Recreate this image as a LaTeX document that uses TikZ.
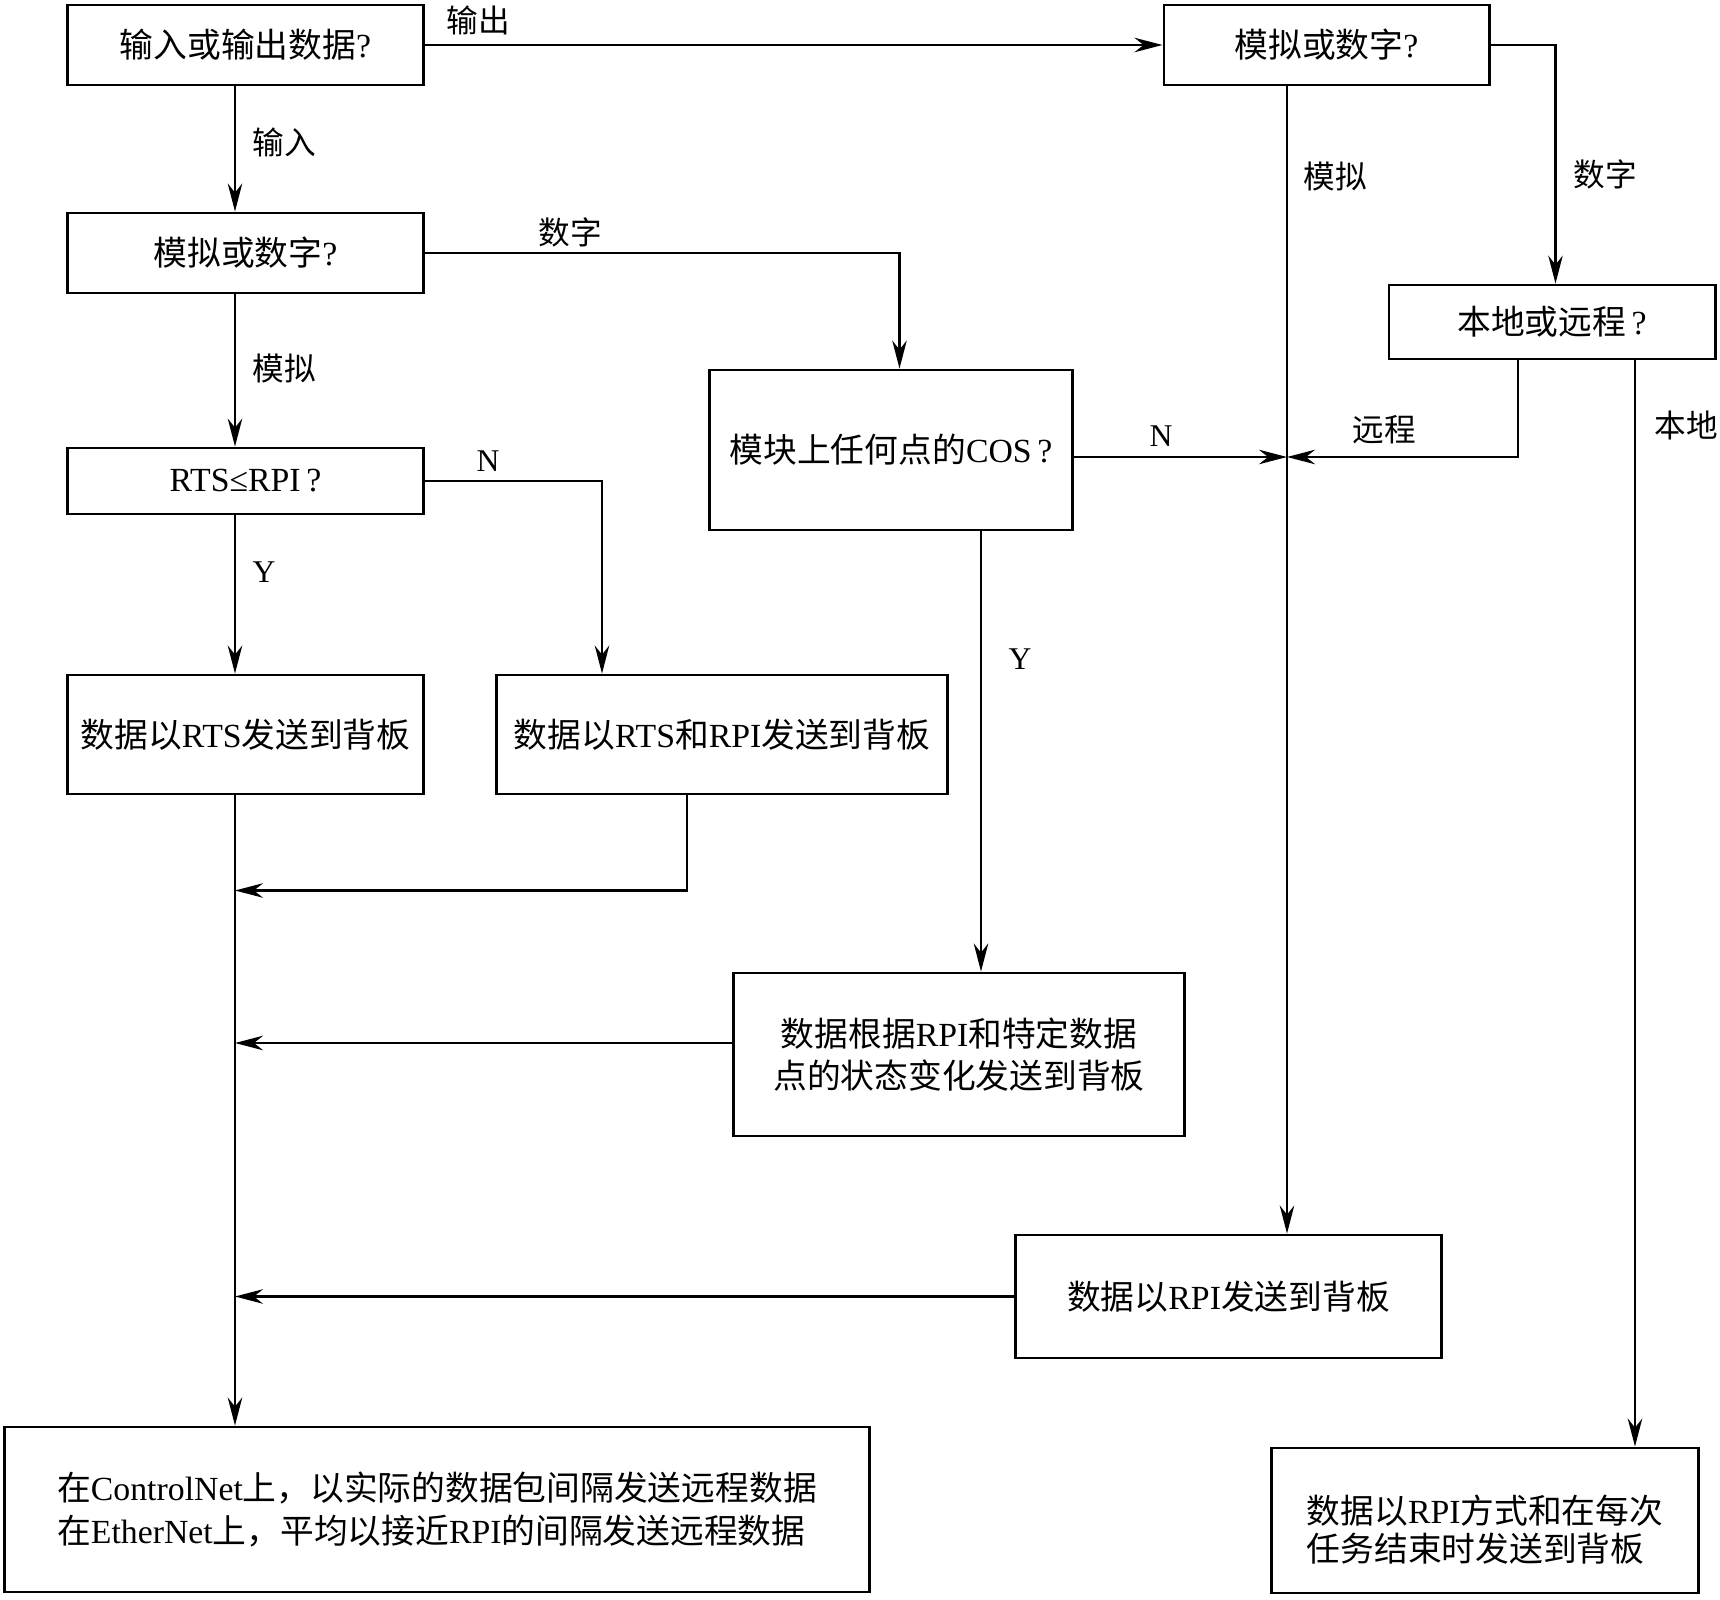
\documentclass[tikz,border=0pt]{standalone}
\usepackage{fontspec}
\setmainfont{Liberation Serif}
\newfontfamily\cjk{Noto Sans CJK SC}
\usepackage{tikz}
\usetikzlibrary{arrows.meta,positioning}
\newcommand\en[1]{{\rmfamily#1}}
\tikzset{
  box/.style={draw,line width=0.8pt,font=\cjk\fontsize{9.6}{12}\selectfont,%
    inner sep=2pt,align=center},
  lbl/.style={font=\cjk\fontsize{9}{11}\selectfont,inner sep=0pt},
  flow/.style={-{Stealth[length=2.8mm,width=1.45mm]},line width=0.6pt},
}

\begin{document}
\begin{tikzpicture}[x=0.01cm,y=-0.01cm]
\useasboundingbox (0,0) rectangle (1720,1600);
\node[box,minimum width=3.55cm,minimum height=0.8cm] (inout) at (245.5,45) {输入或输出数据\en{?}};
\node[box,minimum width=3.55cm,minimum height=0.8cm] (adin) at (245.5,253) {模拟或数字\en{?}};
\node[box,minimum width=3.55cm,minimum height=0.66cm] (rtsq) at (245.5,481) {\en{RTS≤RPI\,?}};
\node[box,minimum width=3.25cm,minimum height=0.8cm] (adout) at (1326.5,45) {模拟或数字\en{?}};
\node[box,minimum width=3.62cm,minimum height=1.6cm] (cosq) at (891,450) {模块上任何点的\en{COS\,?}};
\node[box,minimum width=3.55cm,minimum height=1.19cm] (rtsbox) at (245.5,734.5) {数据以\en{RTS}发送到背板};
\node[box,minimum width=4.5cm,minimum height=1.19cm] (rtsrpi) at (722,734.5) {数据以\en{RTS}和\en{RPI}发送到背板};
\node[box,minimum width=3.26cm,minimum height=0.74cm] (locrem) at (1552,322) {本地或远程\en{\,?}};
\node[box,minimum width=4.5cm,minimum height=1.63cm] (cosbox) at (959,1054.5) {数据根据\en{RPI}和特定数据\\点的状态变化发送到背板};
\node[box,minimum width=4.25cm,minimum height=1.23cm] (rpibox) at (1228.5,1296.5) {数据以\en{RPI}发送到背板};
\node[box,minimum width=4.26cm,minimum height=1.45cm,align=left] (taskbox) at (1485,1520.5) {\rule{0pt}{13.5pt}数据以\en{RPI}方式和在每次\\[-1.2pt]任务结束时发送到背板};
\node[box,minimum width=8.64cm,minimum height=1.65cm,align=left] (netbox) at (437,1509.5) {在\en{ControlNet}上，以实际的数据包间隔发送远程数据\\在\en{EtherNet}上，平均以接近\en{RPI}的间隔发送远程数据};

\coordinate (c1) at (235,0);
\coordinate (c2) at (602,0);
\coordinate (c3) at (687,0);
\coordinate (c4) at (899.5,0);
\coordinate (c5) at (981,0);
\coordinate (c6) at (1287,0);
\coordinate (c7) at (1518,0);
\coordinate (c8) at (1555.5,0);
\coordinate (c9) at (1635,0);
\coordinate (r1) at (0,890.5);
\coordinate (r2) at (0,457);
\coordinate (r3) at (0,1043);

\draw[flow] (inout.east) -- (adout.west);
\draw[flow] (inout.south -| c1) -- (adin.north -| c1);
\draw[flow] (adin.south -| c1) -- (rtsq.north -| c1);
\draw[flow] (adin.east) -| (cosq.north -| c4);
\draw[flow] (rtsq.south -| c1) -- (rtsbox.north -| c1);
\draw[flow] (rtsq.east) -| (rtsrpi.north -| c2);
\draw[flow] (rtsbox.south -| c1) -- (netbox.north -| c1);
\draw[flow] (rtsrpi.south -| c3) |- (c1 |- r1);
\draw[flow] (cosq.south -| c5) -- (cosbox.north -| c5);
\draw[flow] (cosq.east |- r2) -- (c6 |- r2);
\draw[flow] (cosbox.west |- r3) -- (c1 |- r3);
\draw[flow] (adout.south -| c6) -- (rpibox.north -| c6);
\draw[flow] (adout.east) -| (locrem.north -| c8);
\draw[flow] (locrem.south -| c7) |- (c6 |- r2);
\draw[flow] (locrem.south -| c9) -- (taskbox.north -| c9);
\draw[flow] (rpibox.west) -- (rpibox.west -| c1);

\node[lbl] (lout) at (478,20) {输出};
\node[lbl] (lin) at (284,142) {输入};
\node[lbl] (ldig1) at (570,232) {数字};
\node[lbl] (lana1) at (284,368) {模拟};
\node[lbl] (ln1) at (488,461) {\en{N}};
\node[lbl] (ly1) at (264,572) {\en{Y}};
\node[lbl] (lana2) at (1335,176) {模拟};
\node[lbl] (ldig2) at (1605,174) {数字};
\node[lbl] (ln2) at (1161,436) {\en{N}};
\node[lbl] (lrem) at (1384,430) {远程};
\node[lbl] (lloc) at (1686,425) {本地};
\node[lbl] (ly2) at (1020,659) {\en{Y}};
\end{tikzpicture}
\end{document}
